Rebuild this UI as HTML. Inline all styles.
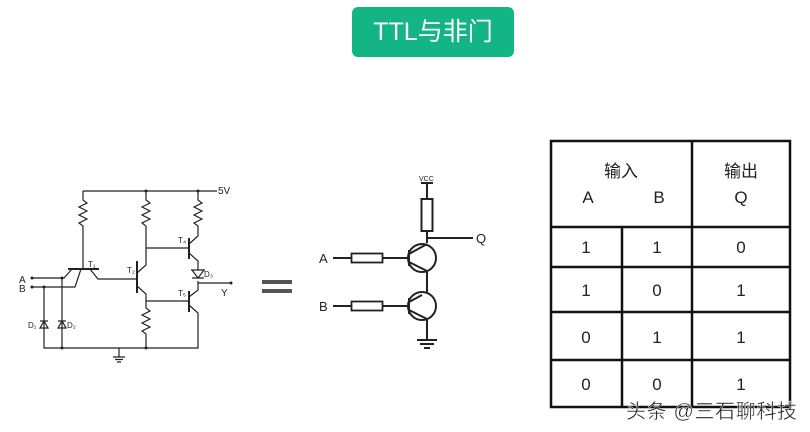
<!DOCTYPE html>
<html><head><meta charset="utf-8"><style>
html,body{margin:0;padding:0;background:#fff;}
body{width:810px;height:432px;position:relative;overflow:hidden;font-family:"Liberation Sans","Noto Sans CJK SC",sans-serif;}
</style></head><body>
<div style="position:absolute;left:352px;top:7px;width:162px;height:50px;background:#13b585;border-radius:6px;color:#fff;font-size:25px;line-height:50px;text-align:center;font-family:'Liberation Sans','Noto Sans CJK SC',sans-serif;">TTL与非门</div>
<svg width="810" height="432" style="position:absolute;left:0;top:0" xmlns="http://www.w3.org/2000/svg">
<g stroke="#222" stroke-width="1.2" fill="none">
<path d="M83 191H217"/>
<path d="M83 191V200 l4 3 -8 4 8 4 -8 4 8 4 -8 4 4 3 V269"/>
<path d="M146 191V200 l4 3 -8 4 8 4 -8 4 8 4 -8 4 4 3 V265 L137 273"/>
<path d="M198 191V200 l4 3 -8 4 8 4 -8 4 8 4 -8 4 4 3 V236 L189 244"/>
<path d="M68 269H99" stroke-width="2"/>
<path d="M32 278H64 L72 269 M32 287H75 L81 269 M90 269 L98 279 H137"/>
<path d="M137 261V293" stroke-width="2"/>
<path d="M146 248H189 M137 286 L146 294 V301 H189 M146 301V308 l4 3 -8 4 8 4 -8 4 8 4 -8 4 4 3 V348"/>
<path d="M189 238V259 M189 291V312" stroke-width="2"/>
<path d="M189 253 L198 261 V270 M198 281V290 L189 297 M189 305 L198 313 V348 H44 V287 M62 278V348"/>
<path d="M198 283H231"/>
<path d="M119 348V357 M113 357H125 M115 359.5H123 M117 362H121"/>
<path d="M191 270H205 M192 270 L198 278 L204 270 Z M192 278H204"/>
<path d="M40 328L44 321 48 328Z M40 321H48 M58 328L62 321 66 328Z M58 321H66"/>
</g>
<g fill="#222">
<circle cx="32" cy="278" r="1.5"/><circle cx="32" cy="287" r="1.5"/><circle cx="62" cy="278" r="1.5"/><circle cx="44" cy="287" r="1.5"/>
<circle cx="146" cy="191" r="1.5"/><circle cx="198" cy="191" r="1.5"/><circle cx="231" cy="283" r="1.5"/><circle cx="62" cy="348" r="1.5"/><circle cx="146" cy="348" r="1.5"/>
</g>
<g font-size="9" fill="#222" font-family="Liberation Sans,sans-serif">
<text x="218" y="194" font-size="10">5V</text>
<text x="19" y="283" font-size="10">A</text><text x="19" y="292" font-size="10">B</text>
<text x="88" y="267" font-size="8">T₁</text><text x="127" y="273" font-size="8">T₂</text>
<text x="178" y="243" font-size="8">T₄</text><text x="178" y="296" font-size="8">T₅</text>
<text x="28" y="328" font-size="8">D₁</text><text x="67" y="328" font-size="8">D₂</text><text x="204" y="277" font-size="8">D₃</text>
<text x="221" y="296" font-size="10">Y</text>
</g>
<rect x="262" y="280" width="30" height="4" fill="#555"/><rect x="262" y="289" width="30" height="4" fill="#555"/>
<g stroke="#222" stroke-width="2" fill="none">
<path d="M421 183H433 M427 183V199 M427 231V243 M427 238H473"/>
<rect x="421.5" y="199" width="11" height="32"/>
<circle cx="422" cy="258" r="14"/><circle cx="422" cy="306" r="14"/>
<path d="M333 258H351 M383 258H409 M409 250V266 M409 254 L427 244 M409 262 L427 271 V292 M409 298V314 M409 302 L422 295 M409 310 L427 319 V340"/>
<path d="M333 306H351 M383 306H409"/>
<rect x="351.5" y="253.5" width="31" height="9" stroke-width="1.8"/>
<rect x="351.5" y="301.5" width="31" height="9" stroke-width="1.8"/>
<path d="M417 340H437 M420 344H434 M424 348H430"/>
</g>
<g fill="#222" font-family="Liberation Sans,sans-serif">
<text x="419" y="181" font-size="7">VCC</text>
<text x="476" y="243" font-size="13">Q</text>
<text x="319" y="263" font-size="13">A</text>
<text x="319" y="311" font-size="13">B</text>
</g>
<g stroke="#111" stroke-width="2.5" fill="none">
<rect x="551" y="141" width="239" height="266"/>
<path d="M692 141V407 M551 227H790 M551 267H790 M551 312H790 M551 360H790 M622 227V407"/>
</g>
<g fill="#222" font-size="17" text-anchor="middle" font-family="Liberation Sans,Noto Sans CJK SC,sans-serif">
<text x="621" y="177">输入</text><text x="741" y="177">输出</text>
<text x="588" y="203">A</text><text x="659" y="203">B</text><text x="741" y="203">Q</text>
<text x="586" y="253">1</text><text x="657" y="253">1</text><text x="741" y="253">0</text>
<text x="586" y="296">1</text><text x="657" y="296">0</text><text x="741" y="296">1</text>
<text x="586" y="343">0</text><text x="657" y="343">1</text><text x="741" y="343">1</text>
<text x="586" y="390">0</text><text x="657" y="390">0</text><text x="741" y="390">1</text>
</g>
<text x="626" y="418" font-size="20" fill="#222" stroke="#fff" stroke-width="0.4" font-family="Liberation Sans,Noto Sans CJK SC,sans-serif" textLength="171">头条 @三石聊科技</text>
</svg>
</body></html>
